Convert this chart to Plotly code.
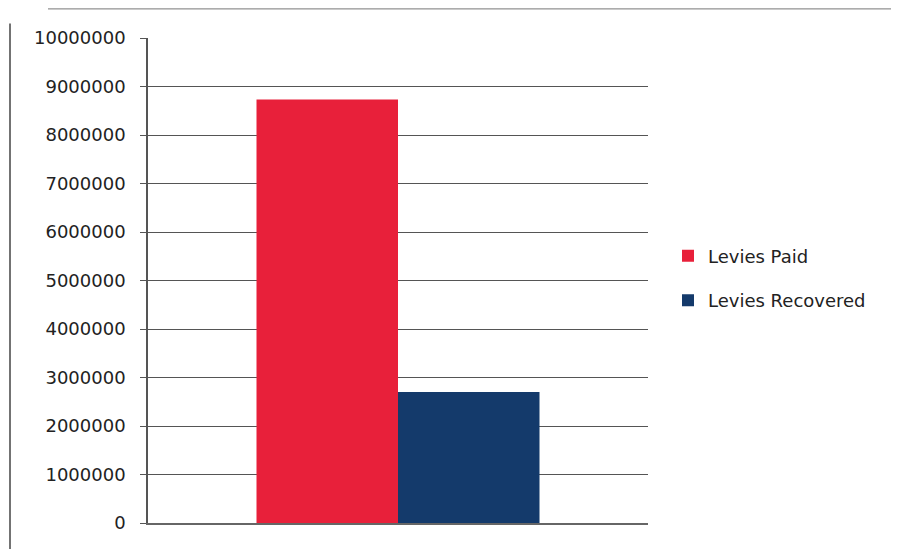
import plotly.graph_objects as go

series_names = ["Levies Paid", "Levies Recovered"]
values = [8730000, 2700000]
colors = ["#e8203a", "#143a6b"]
category = [""]
tick_vals = [0, 1000000, 2000000, 3000000, 4000000, 5000000, 6000000, 7000000, 8000000, 9000000, 10000000]
tick_text = [str(v) for v in tick_vals]

fig = go.Figure()
for name, v, c in zip(series_names, values, colors):
    fig.add_trace(go.Bar(x=category, y=[v], name=name, legendgroup=name,
                         marker=dict(color=c, line=dict(width=0))))

fig.update_layout(
    width=899, height=549,
    margin=dict(l=140, r=259, t=30, b=34),
    paper_bgcolor="white", plot_bgcolor="white",
    barmode="group", bargap=0.434, bargroupgap=0,
    font=dict(family="DejaVu Sans, Liberation Sans", size=18, color="#222"),
    showlegend=True,
    legend=dict(x=1.04, y=0.505, xanchor="left", yanchor="middle", traceorder="grouped",
                font=dict(size=18, color="#222"), itemwidth=30, tracegroupgap=18),
    xaxis=dict(showticklabels=False, showline=True, linecolor="#666", linewidth=1.5,
               showgrid=False, zeroline=False, fixedrange=True),
    yaxis=dict(range=[0, 10000000], tickvals=tick_vals, ticktext=tick_text,
               showgrid=True, gridcolor="#555", gridwidth=1.2,
               showline=True, linecolor="#555", linewidth=1.5,
               ticks="outside", ticklen=6, tickcolor="#555", ticklabelstandoff=11,
               zeroline=False, tickfont=dict(size=18, color="#222")),
)

# scanned-page frame
fig.add_shape(type="line", xref="paper", yref="paper", x0=-0.276, x1=-0.276, y0=-0.06, y1=1.03,
              line=dict(color="#444", width=1.5))
fig.add_shape(type="line", xref="paper", yref="paper", x0=-0.2, x1=1.5, y0=1.06, y1=1.06,
              line=dict(color="#777", width=1))

fig.write_html("out.html")
